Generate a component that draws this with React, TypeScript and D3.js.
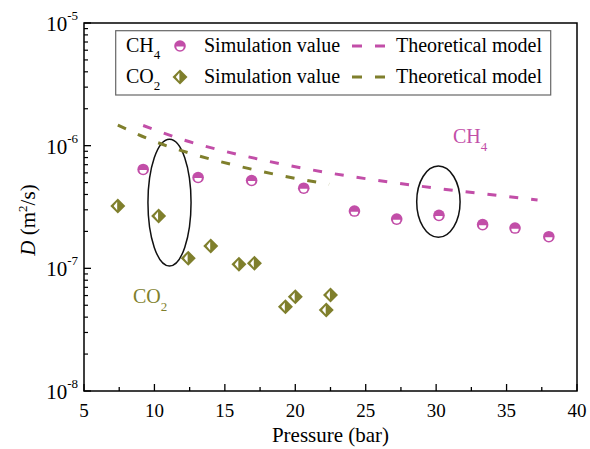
import React, { useRef, useEffect } from 'react';
import * as d3 from 'd3';

// simulation values
const pressureCH4 = [9.2, 13.1, 16.9, 20.6, 24.2, 27.2, 30.2, 33.3, 35.6, 38.0];
const diffCH4 = [6.4e-7, 5.5e-7, 5.2e-7, 4.5e-7, 2.93e-7, 2.52e-7, 2.7e-7, 2.27e-7, 2.13e-7, 1.81e-7];
const pressureCO2 = [7.4, 10.3, 12.4, 14.0, 16.0, 17.1, 19.3, 20.0, 22.2, 22.5];
const diffCO2 = [3.22e-7, 2.67e-7, 1.21e-7, 1.52e-7, 1.08e-7, 1.1e-7, 4.86e-8, 5.87e-8, 4.57e-8, 6.07e-8];

// theoretical model curves
const modelPressureCH4 = [9.2, 12, 15, 18, 21, 24, 27, 30, 33, 37.2];
const modelDiffCH4 = [1.46e-6, 1.12e-6, 9.0e-7, 7.5e-7, 6.4e-7, 5.6e-7, 5.0e-7, 4.5e-7, 4.1e-7, 3.6e-7];
const modelPressureCO2 = [7.4, 10, 13, 16, 19, 22.4];
const modelDiffCO2 = [1.47e-6, 1.085e-6, 8.35e-7, 6.8e-7, 5.7e-7, 4.85e-7];

const xTicks = [5, 10, 15, 20, 25, 30, 35, 40];
const yDecades = [-8, -7, -6, -5];

// annotation ellipses: [pMin, pMax, dMin, dMax]
const ellipses = [
    [9.54, 12.6, 1.045e-7, 1.13e-6],
    [28.62, 31.7, 1.79e-7, 6.82e-7],
];

const PINK = '#C24EA8';
const OLIVE = '#7F7F2C';
const FONT = '"Liberation Serif", "Times New Roman", serif';

const App = () => {
    const svgRef = useRef(null);

    useEffect(() => {
        const svg = d3.select(svgRef.current);
        svg.selectAll('*').remove();

        const left = 84, right = 577, top = 23, bottom = 391;
        const x = d3.scaleLinear().domain([5, 40]).range([left, right]);
        const y = d3.scaleLog().domain([1e-8, 1e-5]).range([bottom, top]);

        const g = svg.append('g').style('font-family', FONT);

        // ellipses
        ellipses.forEach(e => {
            const x0 = x(e[0]), x1 = x(e[1]), y0 = y(e[2]), y1 = y(e[3]);
            g.append('ellipse')
                .attr('cx', (x0 + x1) / 2)
                .attr('cy', (y0 + y1) / 2)
                .attr('rx', (x1 - x0) / 2)
                .attr('ry', (y0 - y1) / 2)
                .attr('fill', 'none')
                .attr('stroke', '#111')
                .attr('stroke-width', 1.5);
        });

        // model lines
        const line = d3.line()
            .x(d => x(d[0]))
            .y(d => y(d[1]))
            .curve(d3.curveMonotoneX);

        const modelCH4 = modelPressureCH4.map((p, i) => [p, modelDiffCH4[i]]);
        const modelCO2 = modelPressureCO2.map((p, i) => [p, modelDiffCO2[i]]);

        g.append('path')
            .attr('d', line(modelCO2))
            .attr('fill', 'none')
            .attr('stroke', OLIVE)
            .attr('stroke-width', 3)
            .attr('stroke-dasharray', '9,13');

        g.append('path')
            .attr('d', line(modelCH4))
            .attr('fill', 'none')
            .attr('stroke', PINK)
            .attr('stroke-width', 3)
            .attr('stroke-dasharray', '9,13');

        // markers
        const drawCircle = (sel, cx, cy) => {
            const r = 5.8;
            const m = sel.append('g').attr('transform', `translate(${cx},${cy})`);
            m.append('circle').attr('r', r).attr('fill', PINK);
            const ri = 3.7;
            m.append('path')
                .attr('d', `M${-ri},0.6 A${ri},${ri} 0 0 0 ${ri},0.6 Z`)
                .attr('fill', '#fff');
        };

        const drawDiamond = (sel, cx, cy) => {
            const s = 7.5;
            const m = sel.append('g').attr('transform', `translate(${cx},${cy})`);
            m.append('path')
                .attr('d', `M0,${-s} L${s},0 L0,${s} L${-s},0 Z`)
                .attr('fill', OLIVE);
            m.append('path')
                .attr('d', `M-0.6,${-s + 3.3} L-0.6,${s - 3.3} L${-s + 3.3},0 Z`)
                .attr('fill', '#fff');
        };

        pressureCH4.forEach((p, i) => drawCircle(g, x(p), y(diffCH4[i])));
        pressureCO2.forEach((p, i) => drawDiamond(g, x(p), y(diffCO2[i])));

        // frame
        g.append('rect')
            .attr('x', left).attr('y', top)
            .attr('width', right - left).attr('height', bottom - top)
            .attr('fill', 'none')
            .attr('stroke', '#000')
            .attr('stroke-width', 1.5);

        // x ticks
        xTicks.forEach(t => {
            g.append('line')
                .attr('x1', x(t)).attr('x2', x(t))
                .attr('y1', bottom).attr('y2', bottom - 7)
                .attr('stroke', '#000').attr('stroke-width', 1.3);
            g.append('text')
                .attr('x', x(t)).attr('y', bottom + 26)
                .attr('text-anchor', 'middle')
                .style('font-size', '19px')
                .text(t);
        });
        xTicks.slice(0, -1).forEach(t => {
            g.append('line')
                .attr('x1', x(t + 2.5)).attr('x2', x(t + 2.5))
                .attr('y1', bottom).attr('y2', bottom - 4)
                .attr('stroke', '#000').attr('stroke-width', 1.3);
        });

        // y ticks
        yDecades.forEach(dec => {
            const v = Math.pow(10, dec);
            g.append('line')
                .attr('x1', left).attr('x2', left + 7)
                .attr('y1', y(v)).attr('y2', y(v))
                .attr('stroke', '#000').attr('stroke-width', 1.3);
            const lbl = g.append('text')
                .attr('x', 78).attr('y', y(v) + 8)
                .attr('text-anchor', 'end')
                .style('font-size', '21px');
            lbl.append('tspan').text('10');
            lbl.append('tspan')
                .attr('dy', -11)
                .style('font-size', '13px')
                .text(dec);
            if (dec < -5) {
                for (let k = 2; k <= 9; k++) {
                    g.append('line')
                        .attr('x1', left).attr('x2', left + 4)
                        .attr('y1', y(k * v)).attr('y2', y(k * v))
                        .attr('stroke', '#000').attr('stroke-width', 1.2);
                }
            }
        });

        // axis titles
        g.append('text')
            .attr('x', (left + right) / 2).attr('y', 442)
            .attr('text-anchor', 'middle')
            .style('font-size', '21px')
            .text('Pressure (bar)');

        const yt = g.append('text')
            .attr('transform', 'translate(35,220) rotate(-90)')
            .attr('text-anchor', 'middle')
            .style('font-size', '21px');
        yt.append('tspan').style('font-style', 'italic').text('D');
        yt.append('tspan').text(' (m');
        yt.append('tspan').attr('dy', -8).style('font-size', '13px').text('2');
        yt.append('tspan').attr('dy', 8).text('/s)');

        // annotations
        const ch4 = g.append('text')
            .attr('x', 453).attr('y', 143)
            .attr('fill', PINK)
            .style('font-size', '20px');
        ch4.append('tspan').text('CH');
        ch4.append('tspan').attr('dy', 8).style('font-size', '13px').text('4');

        const co2 = g.append('text')
            .attr('x', 133).attr('y', 303)
            .attr('fill', OLIVE)
            .style('font-size', '20px');
        co2.append('tspan').text('CO');
        co2.append('tspan').attr('dy', 8).style('font-size', '13px').text('2');

        // legend
        const lg = g.append('g');
        lg.append('rect')
            .attr('x', 115.7).attr('y', 30.7)
            .attr('width', 435).attr('height', 64.3)
            .attr('fill', '#fff')
            .attr('stroke', '#666')
            .attr('stroke-width', 1.2);

        const rows = [
            { gas: 'CH', sub: '4', color: PINK, marker: drawCircle, cy: 46 },
            { gas: 'CO', sub: '2', color: OLIVE, marker: drawDiamond, cy: 77 },
        ];
        rows.forEach(r => {
            const t = lg.append('text')
                .attr('x', 126).attr('y', r.cy + 6)
                .style('font-size', '20px');
            t.append('tspan').text(r.gas);
            t.append('tspan').attr('dy', 7).style('font-size', '13px').text(r.sub);
            r.marker(lg, 180, r.cy);
            lg.append('text')
                .attr('x', 204).attr('y', r.cy + 6)
                .style('font-size', '20px')
                .text('Simulation value');
            lg.append('line')
                .attr('x1', 352).attr('x2', 386)
                .attr('y1', r.cy).attr('y2', r.cy)
                .attr('stroke', r.color)
                .attr('stroke-width', 3)
                .attr('stroke-dasharray', '10,13');
            lg.append('text')
                .attr('x', 396).attr('y', r.cy + 6)
                .style('font-size', '20px')
                .text('Theoretical model');
        });
    }, []);

    return (
        <svg
            ref={svgRef}
            width={590}
            height={449}
            style={{ position: 'absolute', left: 0, top: 0, background: '#fff' }}
        ></svg>
    );
};

export default App;
